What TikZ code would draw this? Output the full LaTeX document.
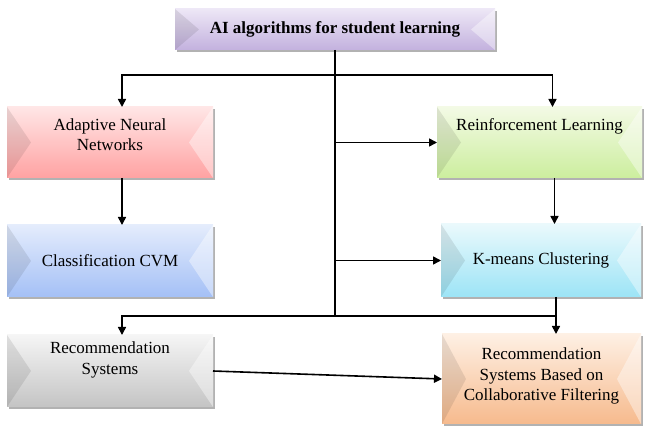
\documentclass[tikz,border=0pt]{standalone}
\usepackage{fontspec}
\setmainfont{Liberation Serif}
\usetikzlibrary{arrows.meta,shadows}

% box faces
\definecolor{headTop}{HTML}{EDE7F6}
\definecolor{headBot}{HTML}{C3B1DE}
\definecolor{redTop}{HTML}{FFE6E6}
\definecolor{redBot}{HTML}{FFA2A2}
\definecolor{blueTop}{HTML}{E4ECFC}
\definecolor{blueBot}{HTML}{A4C0F6}
\definecolor{grayTop}{HTML}{F5F5F5}
\definecolor{grayBot}{HTML}{C4C4C4}
\definecolor{greenTop}{HTML}{F3FAE5}
\definecolor{greenBot}{HTML}{CCEE9E}
\definecolor{cyanTop}{HTML}{EAF9FC}
\definecolor{cyanBot}{HTML}{9CE4F6}
\definecolor{orangeTop}{HTML}{FEF0E4}
\definecolor{orangeBot}{HTML}{F6BA8D}

\newcommand{\boxtext}[2]{\raisebox{#1}[\height][\depth]{\begin{tabular}{@{}c@{}}#2\end{tabular}}}

\begin{document}
\begin{tikzpicture}[
        x=1pt, y=-1pt,
        >={Triangle[length=8pt,width=8pt]},
        line width=1.6pt,
        every node/.style={font=\fontsize{17}{20.5}\selectfont},
        bevel box/.style 2 args={
            top color=#1, bottom color=#2, draw=none,
            minimum width=206pt, minimum height=71pt,
            inner sep=0pt, outer sep=0pt,
            drop shadow={shadow xshift=1.5pt, shadow yshift=-2.5pt, opacity=0.3, fill=black},
            path picture={
                \fill[black, opacity=0.09] (path picture bounding box.north west)
                    -- ([xshift=24pt]path picture bounding box.west)
                    -- (path picture bounding box.south west) -- cycle;
                \fill[white, opacity=0.4] (path picture bounding box.north east)
                    -- ([xshift=-24pt]path picture bounding box.east)
                    -- (path picture bounding box.south east) -- cycle;
            }
        }
    ]
    \useasboundingbox (0,0) rectangle (646,427);

    % Title
    \node[bevel box={headTop}{headBot}, minimum width=320pt, minimum height=41pt,
          font=\bfseries\fontsize{17}{20.5}\selectfont] (head) at (335,29.5)
        {AI algorithms for student learning};

    % Left column
    \node[bevel box={redTop}{redBot}] (anb) at (110,142.5)
        {\boxtext{6pt}{Adaptive Neural\\Networks}};
    \node[bevel box={blueTop}{blueBot}, minimum height=72pt] (cls) at (110,261)
        {Classification CVM};
    \node[bevel box={grayTop}{grayBot}, minimum height=72pt] (rec) at (110,371)
        {\boxtext{11pt}{Recommendation\\Systems}};

    % Right column
    \node[bevel box={greenTop}{greenBot}, minimum width=205pt] (rl) at (539.5,142.5)
        {\boxtext{16pt}{Reinforcement Learning}};
    \node[bevel box={cyanTop}{cyanBot}, minimum width=200pt, minimum height=73pt] (km) at (541,260.5)
        {K-means Clustering};
    \node[bevel box={orangeTop}{orangeBot}, minimum width=199pt, minimum height=90pt] (cf) at (541.5,379)
        {\boxtext{3pt}{Recommendation\\Systems Based on\\Collaborative Filtering}};

    % Trunk and branches
    \coordinate (split) at (335,75);
    \coordinate (bus) at (335,316);
    \draw (head.south) -- (bus);
    \draw[->] (split) -| ([xshift=12pt]anb.north);
    \draw[->] (split) -| ([xshift=13pt]rl.north);
    \draw[->] (head.south |- rl.west) -- (rl.west);
    \draw[->] (head.south |- km.west) -- (km.west);

    % Down the columns
    \draw[->] ([xshift=12pt]anb.south) -- ([xshift=12pt]cls.north);
    \draw[->] ([xshift=15pt]rl.south) -- ([xshift=15pt]rl.south |- km.north);
    \draw[->] ([xshift=15pt]km.south) -- ([xshift=15pt]km.south |- cf.north);
    \draw[->] ([xshift=15pt]km.south |- bus) -| ([xshift=12pt]rec.north);
    \draw[->] (rec.east) -- (cf.west);
\end{tikzpicture}
\end{document}
